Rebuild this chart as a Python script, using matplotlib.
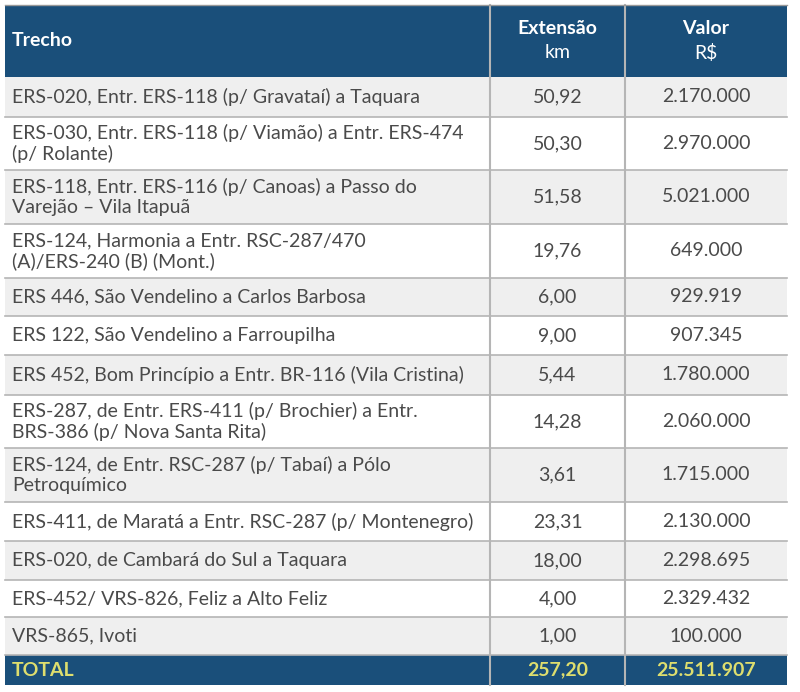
import matplotlib
matplotlib.use("Agg")
import matplotlib.pyplot as plt
from matplotlib.patches import Rectangle

trechos = [
    "ERS-020, Entr. ERS-118 (p/ Gravataí) a Taquara",
    "ERS-030, Entr. ERS-118 (p/ Viamão) a Entr. ERS-474\n(p/ Rolante)",
    "ERS-118, Entr. ERS-116 (p/ Canoas) a Passo do\nVarejão – Vila Itapuã",
    "ERS-124, Harmonia a Entr. RSC-287/470\n(A)/ERS-240 (B) (Mont.)",
    "ERS 446, São Vendelino a Carlos Barbosa",
    "ERS 122, São Vendelino a Farroupilha",
    "ERS 452, Bom Princípio a Entr. BR-116 (Vila Cristina)",
    "ERS-287, de Entr. ERS-411 (p/ Brochier) a Entr.\nBRS-386 (p/ Nova Santa Rita)",
    "ERS-124, de Entr. RSC-287 (p/ Tabaí) a Pólo\nPetroquímico",
    "ERS-411, de Maratá a Entr. RSC-287 (p/ Montenegro)",
    "ERS-020, de Cambará do Sul a Taquara",
    "ERS-452/ VRS-826, Feliz a Alto Feliz",
    "VRS-865, Ivoti",
]
extensao = ["50,92", "50,30", "51,58", "19,76", "6,00", "9,00", "5,44",
            "14,28", "3,61", "23,31", "18,00", "4,00", "1,00"]
valor = ["2.170.000", "2.970.000", "5.021.000", "649.000", "929.919", "907.345",
         "1.780.000", "2.060.000", "1.715.000", "2.130.000", "2.298.695",
         "2.329.432", "100.000"]
total_ext = "257,20"
total_val = "25.511.907"
headers = ["Trecho", "Extensão", "km", "Valor", "R$"]

row_edges = [5, 77, 117, 170, 224, 278, 316, 355, 395, 448, 502, 541, 580, 617, 655, 685]
col_edges = [5, 490, 625, 787]
blue = "#1a4f7a"
fig = plt.figure(figsize=(8, 6.92), dpi=100)
ax = fig.add_axes([0, 0, 1, 1])
ax.set_xlim(0, 800); ax.set_ylim(692, 0); ax.axis("off")
fs = 14
font = "Lato"
txt = "#4a4a4a"

def cell_bg(y0, y1, color):
    ax.add_patch(Rectangle((col_edges[0], y0), col_edges[-1]-col_edges[0], y1-y0,
                           facecolor=color, edgecolor="none"))

cell_bg(row_edges[0], row_edges[1], blue)
for i in range(len(trechos)):
    y0, y1 = row_edges[i+1], row_edges[i+2]
    cell_bg(y0, y1, "#efefef" if i % 2 == 0 else "#ffffff")
    ym = (y0 + y1) / 2
    ax.text(12, ym, trechos[i], va="center", ha="left", fontsize=fs, color=txt,
            family=font, linespacing=1.2)
    ax.text((col_edges[1]+col_edges[2])/2, ym, extensao[i], va="center", ha="center",
            fontsize=fs, color=txt, family=font)
    ax.text((col_edges[2]+col_edges[3])/2, ym, valor[i], va="center", ha="center",
            fontsize=fs, color=txt, family=font)
    ax.plot([col_edges[0], col_edges[-1]], [y1, y1], color="#b5b5b5", lw=1.2)
cell_bg(row_edges[-2], row_edges[-1], blue)
ym = (row_edges[0]+row_edges[1])/2
ax.text(12, ym, headers[0], va="center", ha="left", fontsize=fs, color="white",
        family=font, weight="bold")
for j, cx in enumerate([(col_edges[1]+col_edges[2])/2, (col_edges[2]+col_edges[3])/2]):
    ax.text(cx, ym - 12, headers[1+2*j], va="center", ha="center",
            fontsize=fs, color="white", family=font, weight="bold")
    ax.text(cx, ym + 12, headers[2+2*j], va="center", ha="center",
            fontsize=fs, color="white", family=font)
ym = (row_edges[-2]+row_edges[-1])/2
yel = "#dede6e"
ax.text(12, ym, "TOTAL", va="center", ha="left", fontsize=fs, color=yel, family=font, weight="bold")
ax.text((col_edges[1]+col_edges[2])/2, ym, total_ext, va="center", ha="center",
        fontsize=fs, color=yel, family=font, weight="bold")
ax.text((col_edges[2]+col_edges[3])/2, ym, total_val, va="center", ha="center",
        fontsize=fs, color=yel, family=font, weight="bold")
for x in col_edges[1:-1]:
    ax.plot([x, x], [row_edges[0], row_edges[-1]], color="#b5b5b5", lw=1.5)
ax.plot([col_edges[0], col_edges[-1]], [row_edges[0], row_edges[0]], color="#999999", lw=1)
fig.savefig("out.png", dpi=100)
